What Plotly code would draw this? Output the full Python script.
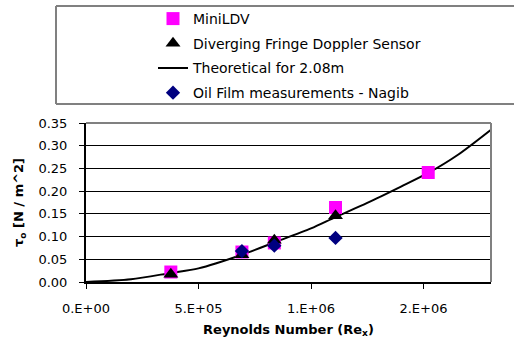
import plotly.graph_objects as go

# Data
re_mini = [3.77e5, 6.93e5, 8.37e5, 1.109e6, 1.521e6]
tau_mini = [0.022, 0.066, 0.086, 0.164, 0.241]

re_dfds = [3.77e5, 6.93e5, 8.37e5, 1.109e6]
tau_dfds = [0.017, 0.060, 0.092, 0.146]

re_theory = [0, 2.0e5, 3.77e5, 5.0e5, 6.93e5, 8.37e5, 1.0e6, 1.109e6, 1.25e6, 1.40e6, 1.521e6, 1.65e6, 1.83e6]
tau_theory = [0, 0.006, 0.020, 0.030, 0.060, 0.087, 0.118, 0.143, 0.174, 0.210, 0.240, 0.279, 0.347]

re_oil = [6.93e5, 8.37e5, 1.109e6]
tau_oil = [0.068, 0.080, 0.097]

x_tickvals = [0, 5e5, 1e6, 1.5e6]
x_ticktext = ["0.E+00", "5.E+05", "1.E+06", "2.E+06"]

W, H = 515, 343
ML, MR, MT, MB = 86, 24, 123, 61

FONT = "DejaVu Sans, Liberation Sans, Arial, sans-serif"

fig = go.Figure()
fig.add_trace(go.Scatter(x=re_theory, y=tau_theory, mode="lines", name="Theoretical for 2.08m",
                         line=dict(color="black", width=2, shape="spline", smoothing=0.8),
                         legendrank=3, legendgroup="c"))
fig.add_trace(go.Scatter(x=re_mini, y=tau_mini, mode="markers", name="MiniLDV",
                         marker=dict(symbol="square", size=13, color="#FF00FF"),
                         legendrank=1, legendgroup="a"))
fig.add_trace(go.Scatter(x=re_dfds, y=tau_dfds, mode="markers", name="Diverging Fringe Doppler Sensor",
                         marker=dict(symbol="triangle-up", size=13, color="black"),
                         legendrank=2, legendgroup="b"))
fig.add_trace(go.Scatter(x=re_oil, y=tau_oil, mode="markers", name="Oil Film measurements - Nagib",
                         marker=dict(symbol="diamond", size=11, color="#000080"),
                         legendrank=4, legendgroup="d"))

pw = W - ML - MR
ph = H - MT - MB

def px_x(p):
    return (p - ML) / pw

def px_y(p):
    return (H - MB - p) / ph

box = dict(color="#808080", width=2)
fig.update_layout(
    width=W, height=H,
    margin=dict(l=ML, r=MR, t=MT, b=MB, autoexpand=False),
    paper_bgcolor="white", plot_bgcolor="white",
    font=dict(family=FONT, size=13, color="black"),
    showlegend=True,
    legend=dict(x=px_x(153), y=px_y(3), xanchor="left", yanchor="top",
                bgcolor="rgba(0,0,0,0)", borderwidth=0, bordercolor="rgba(0,0,0,0)",
                traceorder="grouped", tracegroupgap=3.5,
                font=dict(family=FONT, size=14)),
    shapes=[
        dict(type="line", xref="paper", yref="paper", x0=px_x(56), x1=px_x(514),
             y0=px_y(6), y1=px_y(6), line=box),
        dict(type="line", xref="paper", yref="paper", x0=px_x(56), x1=px_x(514),
             y0=px_y(104), y1=px_y(104), line=box),
        dict(type="line", xref="paper", yref="paper", x0=px_x(56), x1=px_x(56),
             y0=px_y(104), y1=px_y(6), line=box),
        dict(type="line", xref="paper", yref="paper", x0=0, x1=1, y0=1, y1=1,
             line=box),
        dict(type="line", xref="paper", yref="paper", x0=1, x1=1, y0=0, y1=1,
             line=box),
    ],
)

fig.update_xaxes(range=[0, 1.8e6], tickvals=x_tickvals, ticktext=x_ticktext,
                 showgrid=False, zeroline=False, showline=True, linecolor="black", linewidth=2,
                 ticks="outside", ticklen=5, tickcolor="black", ticklabelstandoff=8,
                 tickfont=dict(family=FONT, size=13),
                 title=dict(text="<b>Reynolds Number (Re<sub>x</sub>)</b>",
                            font=dict(family=FONT, size=13), standoff=10))
fig.update_yaxes(range=[0, 0.35], dtick=0.05, tickformat=".2f",
                 showgrid=True, gridcolor="black", gridwidth=1, zeroline=False,
                 showline=True, linecolor="black", linewidth=2,
                 ticks="outside", ticklen=5, tickcolor="black", ticklabelstandoff=9,
                 tickfont=dict(family=FONT, size=13),
                 title=dict(text="<b>τ<sub>o</sub> [N / m^2]</b>",
                            font=dict(family=FONT, size=13), standoff=12))

fig.write_html("out.html")
